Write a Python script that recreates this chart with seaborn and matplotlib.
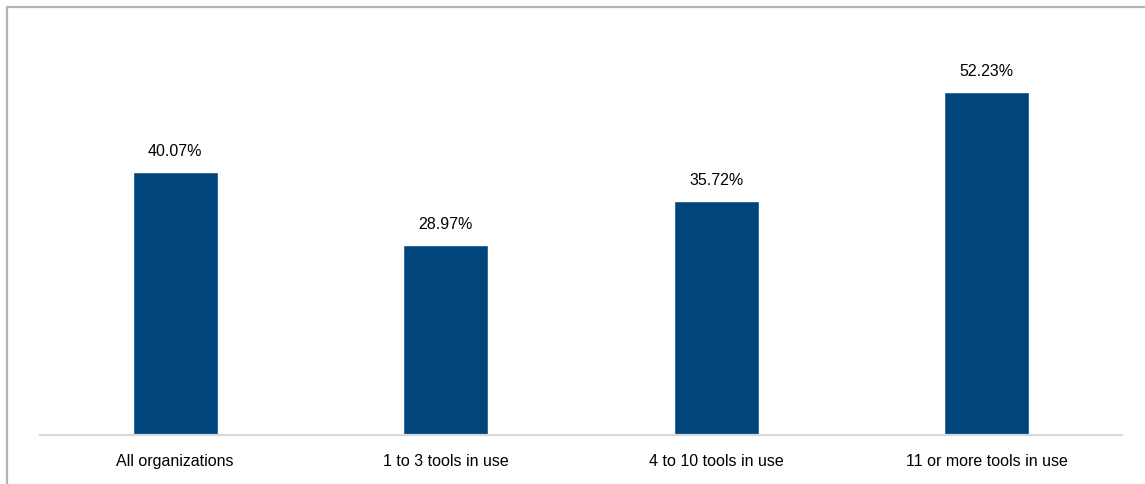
import matplotlib
matplotlib.use("Agg")
import matplotlib.pyplot as plt
from matplotlib import font_manager
from matplotlib.lines import Line2D
import seaborn as sns
import pandas as pd

categories = ["All organizations", "1 to 3 tools in use", "4 to 10 tools in use", "11 or more tools in use"]
values = [40.07, 28.97, 35.72, 52.23]
value_labels = ["40.07%", "28.97%", "35.72%", "52.23%"]

sns.set_theme(style="white")
names = {f.name for f in font_manager.fontManager.ttflist}
family = "Liberation Sans Narrow" if "Liberation Sans Narrow" in names else "Liberation Sans"
plt.rcParams["font.family"] = [family, "DejaVu Sans"]

W, H = 1145, 485
fig = plt.figure(figsize=(W / 100, H / 100), dpi=100)
fig.patch.set_facecolor("white")

ax = fig.add_axes([40 / W, (H - 436) / H, 1082 / W, 416 / H])
df = pd.DataFrame({"category": categories, "value": values})
sns.barplot(data=df, x="category", y="value", color="#00467C", saturation=1,
            width=0.314, ax=ax)

ax.set_xlim(-0.5, 3.5)
ax.set_ylim(0, 416 / 6.56)
for s in ["top", "right", "left"]:
    ax.spines[s].set_visible(False)
ax.spines["bottom"].set_color("#d9d9d9")
ax.spines["bottom"].set_linewidth(1.6)
ax.set_yticks([])
ax.set_xlabel("")
ax.set_ylabel("")
ax.tick_params(axis="x", length=0, pad=13, labelsize=11.5, labelcolor="#000000")

for i, (v, lab) in enumerate(zip(values, value_labels)):
    ax.annotate(lab, (i, v), xytext=(0, 10), textcoords="offset points",
                ha="center", va="bottom", fontsize=11.5, color="#000000")

# frame around the chart area
fig.add_artist(Line2D([6.5 / W, 1], [1 - 7.5 / H, 1 - 7.5 / H], transform=fig.transFigure,
                      color="#b4b4b4", lw=1.6))
fig.add_artist(Line2D([6.5 / W, 6.5 / W], [0, 1 - 7.5 / H], transform=fig.transFigure,
                      color="#b4b4b4", lw=1.6))

fig.savefig("out.png", dpi=100, facecolor="white")
